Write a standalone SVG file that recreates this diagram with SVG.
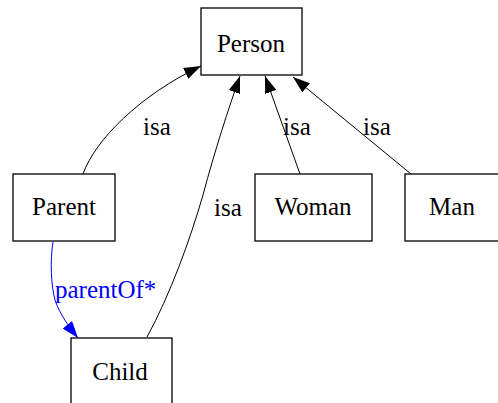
<svg xmlns="http://www.w3.org/2000/svg" width="498" height="403" viewBox="0 0 498 403">
<style>
.node rect{fill:#fff;stroke:#000;stroke-width:1.3}
.node text{font-family:"Liberation Serif","Times New Roman",serif;font-size:25px;text-anchor:middle;fill:#000}
.lbl{font-family:"Liberation Serif","Times New Roman",serif;font-size:25px;fill:#000}
.e{fill:none;stroke:#000;stroke-width:1}
.eb{fill:none;stroke:#0000ff;stroke-width:1}
</style>
<defs>
<marker id="ah" markerWidth="18" markerHeight="12" refX="17" refY="6" orient="auto" markerUnits="userSpaceOnUse"><path d="M0,0 L17,6 L0,12 Z" fill="#000"/></marker>
<marker id="ahb" markerWidth="18" markerHeight="12" refX="17" refY="6" orient="auto" markerUnits="userSpaceOnUse"><path d="M0,0 L17,6 L0,12 Z" fill="#0000ff"/></marker>
</defs>
<rect width="498" height="403" fill="#fff"/>
<g id="connectors">
<path class="e" d="M83,174 C95,140 140,95 201,66" marker-end="url(#ah)"/>
<path class="e" d="M147,337 C170,295 190,240 203,195 C215,150 228,110 240,76" marker-end="url(#ah)"/>
<path class="e" d="M300,174 L265,76" marker-end="url(#ah)"/>
<path class="e" d="M411,174 L293,77" marker-end="url(#ah)"/>
<path class="eb" d="M53,242 C50,260 51,285 55,300 C60,315 70,328 78,338" marker-end="url(#ahb)"/>
<text class="lbl" x="143" y="135">isa</text>
<text class="lbl" x="214" y="216">isa</text>
<text class="lbl" x="283" y="135">isa</text>
<text class="lbl" x="363" y="135">isa</text>
<text class="lbl" x="55" y="298" style="fill:#0000ff">parentOf*</text>
</g>
<g id="Person" class="node"><rect x="201" y="8" width="101" height="67"/><text x="251" y="52">Person</text></g>
<g id="Parent" class="node"><rect x="13" y="174" width="102" height="67"/><text x="64" y="215">Parent</text></g>
<g id="Woman" class="node"><rect x="255" y="174" width="117" height="67"/><text x="313" y="215">Woman</text></g>
<g id="Man" class="node"><rect x="405" y="174" width="100" height="67"/><text x="452" y="215">Man</text></g>
<g id="Child" class="node"><rect x="71" y="338" width="101" height="70"/><text x="120" y="380">Child</text></g>
</svg>
